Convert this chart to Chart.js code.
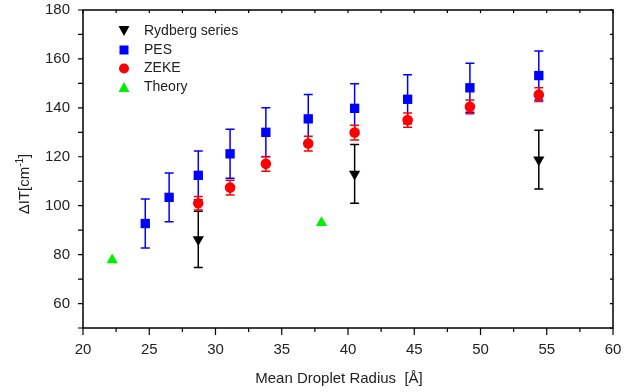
<!DOCTYPE html>
<html>
<head>
<meta charset="utf-8">
<script src="https://cdn.jsdelivr.net/npm/chart.js@4"></script>
<style>
  html, body { margin: 0; padding: 0; background: #fff; }
  #wrap { width: 632px; height: 392px; }
</style>
</head>
<body>
<div id="wrap"><canvas id="chart"></canvas></div>
<script>
// values
const rydbergX = [28.7, 40.5, 54.4];
const rydbergY = [86.2, 113.0, 118.8];
const rydbergErr = [11.5, 12, 12];

const pesX = [24.7, 26.5, 28.7, 31.1, 33.8, 37.0, 40.5, 44.5, 49.2, 54.4];
const pesY = [92.7, 103.4, 112.4, 121.2, 130.0, 135.5, 139.8, 143.5, 148.2, 153.2];
const pesErr = [10, 10, 10, 10, 10, 10, 10, 10, 10, 10];

const zekeX = [28.7, 31.1, 33.8, 37.0, 40.5, 44.5, 49.2, 54.4];
const zekeY = [101.0, 107.4, 117.1, 125.4, 129.9, 135.0, 140.4, 145.4];
const zekeErr = [2.8, 3, 3, 3, 3, 2.9, 2.8, 2.8];

const theoryX = [22.2, 38.0];
const theoryY = [77.8, 93.0];

const legendNames = ['Rydberg series', 'PES', 'ZEKE', 'Theory'];

const FONT = '"Liberation Sans", Arial, sans-serif';
const pts = (xs, ys) => xs.map((x, i) => ({ x, y: ys[i] }));

// error bars, drawn under the markers
const errorBars = {
  id: 'errorBars',
  beforeDatasetsDraw(chart) {
    const { ctx, scales: { x, y } } = chart;
    const sets = [
      [rydbergX, rydbergY, rydbergErr, '#000000'],
      [pesX, pesY, pesErr, '#0000ff'],
      [zekeX, zekeY, zekeErr, '#ff0000']
    ];
    ctx.save();
    ctx.lineWidth = 1.5;
    sets.forEach(([xs, ys, es, col]) => {
      ctx.strokeStyle = col;
      xs.forEach((xv, i) => {
        const px = x.getPixelForValue(xv);
        const top = y.getPixelForValue(ys[i] + es[i]);
        const bot = y.getPixelForValue(ys[i] - es[i]);
        ctx.beginPath();
        ctx.moveTo(px, top); ctx.lineTo(px, bot);
        ctx.moveTo(px - 4.5, top); ctx.lineTo(px + 4.5, top);
        ctx.moveTo(px - 4.5, bot); ctx.lineTo(px + 4.5, bot);
        ctx.stroke();
      });
    });
    ctx.restore();
  }
};

// frame, ticks, legend and axis titles
const decor = {
  id: 'decor',
  afterDraw(chart) {
    const { ctx, chartArea: a, scales: { x, y } } = chart;
    ctx.save();
    ctx.strokeStyle = '#000';
    ctx.lineWidth = 1.5;
    ctx.strokeRect(a.left, a.top, a.right - a.left, a.bottom - a.top);

    ctx.lineWidth = 1.2;
    ctx.beginPath();
    for (let v = 50; v <= 180; v += 10) {
      const py = y.getPixelForValue(v);
      ctx.moveTo(a.left - 5, py); ctx.lineTo(a.left, py);
      ctx.moveTo(a.right - 3, py); ctx.lineTo(a.right, py);
    }
    for (let v = 20; v <= 60; v += 2.5) {
      const px = x.getPixelForValue(v);
      const len = v % 5 === 0 ? 7 : 4;
      ctx.moveTo(px, a.bottom); ctx.lineTo(px, a.bottom + len);
      ctx.moveTo(px, a.top); ctx.lineTo(px, a.top + 3);
    }
    ctx.stroke();

    // legend
    ctx.font = '14px ' + FONT;
    ctx.textBaseline = 'middle';
    const ly = [31, 50, 68.5, 87];
    legendNames.forEach((name, i) => {
      ctx.fillStyle = '#222';
      ctx.fillText(name, 144, ly[i]);
    });
    const mx = 124;
    ctx.fillStyle = '#000';
    ctx.beginPath();
    ctx.moveTo(mx - 5.5, ly[0] - 5); ctx.lineTo(mx + 5.5, ly[0] - 5); ctx.lineTo(mx, ly[0] + 5);
    ctx.fill();
    ctx.fillStyle = '#0000ff';
    ctx.fillRect(mx - 4.5, ly[1] - 4.5, 9, 9);
    ctx.fillStyle = '#ff0000';
    ctx.beginPath(); ctx.arc(mx, ly[2], 5, 0, Math.PI * 2); ctx.fill();
    ctx.fillStyle = '#00ee00';
    ctx.beginPath();
    ctx.moveTo(mx - 5.5, ly[3] + 5); ctx.lineTo(mx + 5.5, ly[3] + 5); ctx.lineTo(mx, ly[3] - 5);
    ctx.fill();

    // x title
    ctx.fillStyle = '#222';
    ctx.font = '15px ' + FONT;
    ctx.textAlign = 'center';
    ctx.fillText('Mean Droplet Radius  [\u00C5]', 339, 379);

    // y title with superscript
    ctx.translate(25, 184);
    ctx.rotate(-Math.PI / 2);
    ctx.textAlign = 'left';
    const p1 = '\u0394IT[cm', p2 = '-1', p3 = ']';
    ctx.font = '15px ' + FONT;
    const w1 = ctx.measureText(p1).width, w3 = ctx.measureText(p3).width;
    ctx.font = '10px ' + FONT;
    const w2 = ctx.measureText(p2).width;
    const x0 = -(w1 + w2 + w3) / 2;
    ctx.font = '15px ' + FONT;
    ctx.fillText(p1, x0, 0);
    ctx.font = '10px ' + FONT;
    ctx.fillText(p2, x0 + w1, -5);
    ctx.font = '15px ' + FONT;
    ctx.fillText(p3, x0 + w1 + w2, 0);
    ctx.restore();
  }
};

new Chart(document.getElementById('chart'), {
  type: 'scatter',
  plugins: [errorBars, decor],
  data: {
    datasets: [
      { label: legendNames[0], data: pts(rydbergX, rydbergY), pointStyle: 'triangle', rotation: 180, pointRadius: 6.5, backgroundColor: '#000', borderWidth: 0 },
      { label: legendNames[1], data: pts(pesX, pesY), pointStyle: 'rect', pointRadius: 6.6, backgroundColor: '#0000ff', borderWidth: 0 },
      { label: legendNames[2], data: pts(zekeX, zekeY), pointStyle: 'circle', pointRadius: 5.3, backgroundColor: '#ff0000', borderWidth: 0 },
      { label: legendNames[3], data: pts(theoryX, theoryY), pointStyle: 'triangle', pointRadius: 6.5, backgroundColor: '#00ee00', borderWidth: 0 }
    ]
  },
  options: {
    responsive: true,
    maintainAspectRatio: false,
    animation: false,
    layout: { padding: { top: 10, right: 19, left: 0, bottom: 0 } },
    plugins: { legend: { display: false }, tooltip: { enabled: false } },
    scales: {
      x: {
        type: 'linear', min: 20, max: 60,
        grid: { display: false },
        border: { display: false },
        afterFit(s) { s.height = 64; s.paddingLeft = 0; s.paddingRight = 0; },
        ticks: {
          stepSize: 2.5, padding: 5, color: '#222', autoSkip: false, maxRotation: 0,
          font: { family: FONT, size: 15 },
          callback: v => (v % 5 === 0 ? v : '')
        }
      },
      y: {
        type: 'linear', min: 50, max: 180,
        grid: { display: false },
        border: { display: false },
        afterFit(s) { s.width = 83; s.paddingTop = 0; s.paddingBottom = 0; },
        ticks: {
          stepSize: 10, padding: 5, color: '#222', autoSkip: false,
          font: { family: FONT, size: 15 },
          callback: v => (v % 20 === 0 && v >= 60 ? v : '')
        }
      }
    }
  }
});
</script>
</body>
</html>
